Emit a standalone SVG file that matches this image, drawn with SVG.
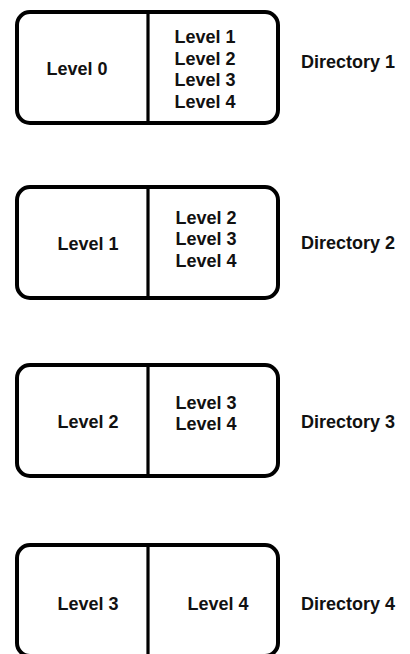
<svg xmlns="http://www.w3.org/2000/svg" width="410" height="654" viewBox="0 0 410 654">
<style>
.box{fill:#fff;stroke:#000;stroke-width:4}
.div{stroke:#000;stroke-width:3.2;fill:none}
text{font-family:"Liberation Sans","DejaVu Sans",sans-serif;font-size:18px;font-weight:bold;fill:#111}
.m{text-anchor:middle}
</style>
<rect width="410" height="654" fill="#fff"/>
<g id="directory1">
<rect class="box" x="17" y="12" width="261" height="111" rx="13"/>
<line class="div" x1="148" y1="12" x2="148" y2="123"/>
<text class="m" x="77" y="75">Level 0</text>
<text class="m" x="205" y="43">Level 1</text>
<text class="m" x="205" y="64.5">Level 2</text>
<text class="m" x="205" y="86">Level 3</text>
<text class="m" x="205" y="107.5">Level 4</text>
<text x="301" y="68">Directory 1</text>
</g>
<g id="directory2">
<rect class="box" x="17" y="187" width="261" height="111" rx="13"/>
<line class="div" x1="148" y1="187" x2="148" y2="298"/>
<text class="m" x="88" y="250">Level 1</text>
<text class="m" x="206" y="223.5">Level 2</text>
<text class="m" x="206" y="245">Level 3</text>
<text class="m" x="206" y="266.5">Level 4</text>
<text x="301" y="249">Directory 2</text>
</g>
<g id="directory3">
<rect class="box" x="17" y="365" width="261" height="111" rx="13"/>
<line class="div" x1="148" y1="365" x2="148" y2="476"/>
<text class="m" x="88" y="428">Level 2</text>
<text class="m" x="206" y="408.5">Level 3</text>
<text class="m" x="206" y="430">Level 4</text>
<text x="301" y="428">Directory 3</text>
</g>
<g id="directory4">
<rect class="box" x="17" y="545" width="261" height="111" rx="13"/>
<line class="div" x1="148" y1="545" x2="148" y2="656"/>
<text class="m" x="88" y="610">Level 3</text>
<text class="m" x="218" y="610">Level 4</text>
<text x="301" y="610">Directory 4</text>
</g>
<g id="connectors"/>
</svg>
